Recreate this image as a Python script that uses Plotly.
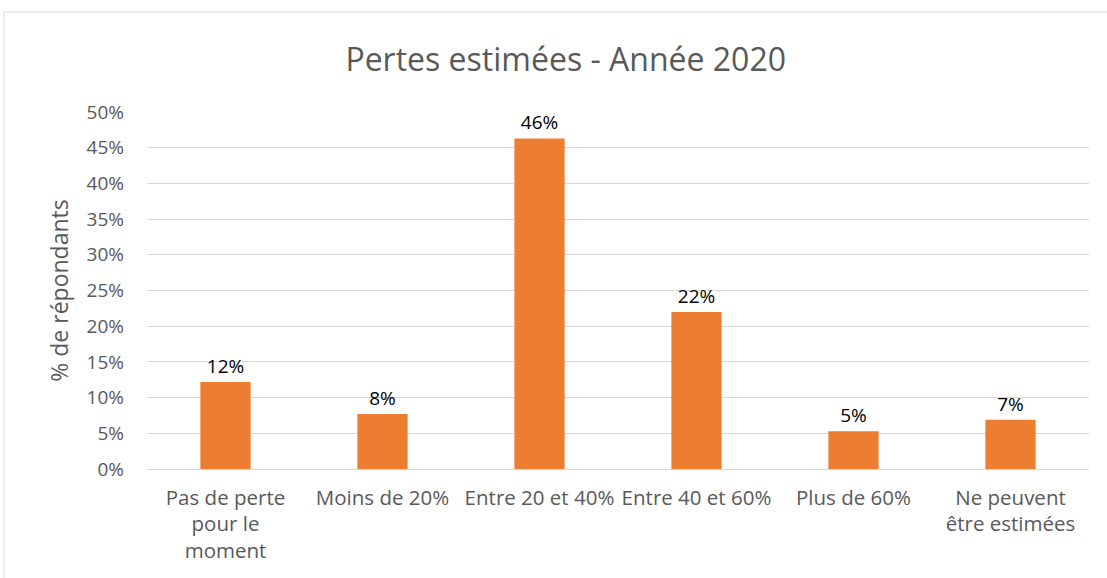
import plotly.graph_objects as go

categories = ["Pas de perte<br>pour le<br>moment", "Moins de 20%", "Entre 20 et 40%",
              "Entre 40 et 60%", "Plus de 60%", "Ne peuvent<br>être estimées"]
values = [0.122, 0.077, 0.463, 0.220, 0.053, 0.069]
labels = ["12%", "8%", "46%", "22%", "5%", "7%"]
tick_vals = [0, 0.05, 0.10, 0.15, 0.20, 0.25, 0.30, 0.35, 0.40, 0.45, 0.50]
tick_text = ["0%", "5%", "10%", "15%", "20%", "25%", "30%", "35%", "40%", "45%", "50%"]

FONT = "Open Sans"

fig = go.Figure(go.Bar(
    x=categories, y=values, text=labels, textposition="outside",
    textfont=dict(family=FONT, size=19, color="#000000"),
    marker=dict(color="#ED7D31", line=dict(width=0)),
    width=0.32, cliponaxis=False,
))

fig.update_layout(
    width=1107, height=578,
    margin=dict(l=147, r=18, t=112, b=109),
    paper_bgcolor="white", plot_bgcolor="white",
    showlegend=False,
    title=dict(text="Pertes estimées - Année 2020", x=0.511, xanchor="center",
               y=0.896, yanchor="middle",
               font=dict(family=FONT, size=32, color="#595959")),
    xaxis=dict(showgrid=False, showline=False, ticks="", ticklabelstandoff=14,
               tickfont=dict(family=FONT, size=20.5, color="#595959")),
    yaxis=dict(range=[0, 0.5], tickvals=tick_vals, ticktext=tick_text,
               showgrid=True, gridcolor="#d9d9d9", gridwidth=1,
               zeroline=True, zerolinecolor="#d9d9d9", zerolinewidth=1,
               showline=False, ticks="", ticklabelstandoff=22,
               tickfont=dict(family=FONT, size=19, color="#595959"),
               title=dict(text="% de répondants", standoff=11,
                          font=dict(family=FONT, size=23, color="#595959"))),
    shapes=[
        dict(type="line", xref="paper", yref="paper", x0=-0.1518, x1=1.03, y0=1.280, y1=1.280,
             line=dict(color="#d9d9d9", width=1)),
        dict(type="line", xref="paper", yref="paper", x0=-0.1518, x1=-0.1518, y0=1.280, y1=-0.35,
             line=dict(color="#d9d9d9", width=1)),
    ],
)

fig.write_html("out.html", config={"displayModeBar": False},
               post_script="document.body.style.margin='0';document.body.style.overflow='hidden';")
